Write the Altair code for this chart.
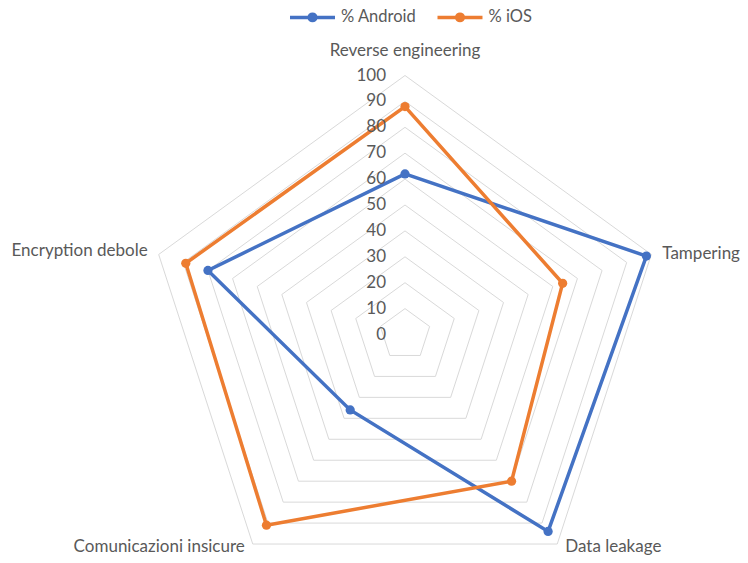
import altair as alt
import pandas as pd

# ---- data ----
categories = ["Reverse engineering", "Tampering", "Data leakage",
              "Comunicazioni insicure", "Encryption debole"]
android = [62, 98, 94, 36, 80]
ios = [88, 64, 70, 91, 89]
series_names = ["% Android", "% iOS"]
series_colors = ["#4472C4", "#ED7D31"]
grid_levels = [10, 20, 30, 40, 50, 60, 70, 80, 90, 100]
tick_values = [0, 10, 20, 30, 40, 50, 60, 70, 80, 90, 100]

# ---- layout ----
W, H = 732, 547
CX, CY = 397, 326.5
PX = 2.59
xdom = [-CX / PX, (W - CX) / PX]
ydom = [-(H - CY) / PX, CY / PX]
FONT = "Lato"
TXT = "#595959"

rows = []
for i, c in enumerate(categories):
    rows.append({"cat": c, "idx": i, "series": series_names[0], "value": android[i]})
    rows.append({"cat": c, "idx": i, "series": series_names[1], "value": ios[i]})
data = pd.DataFrame(rows)
grid = pd.DataFrame([{"level": l, "idx": i} for l in grid_levels for i in range(len(categories))])
ticks = pd.DataFrame({"level": tick_values, "idx": [0] * len(tick_values)})
labels = pd.DataFrame({"cat": categories, "idx": list(range(len(categories))), "r": [100] * len(categories)})

xs = alt.Scale(domain=xdom, nice=False, zero=False)
ys = alt.Scale(domain=ydom, nice=False, zero=False)
N = len(categories)


def polar(ch, rfield):
    return ch.transform_calculate(
        ang=f"PI/2 - datum.idx*2*PI/{N}"
    ).transform_calculate(
        px=f"datum.{rfield}*cos(datum.ang)",
        py=f"datum.{rfield}*sin(datum.ang)",
    )


X = alt.X("px:Q", scale=xs, axis=None)
Y = alt.Y("py:Q", scale=ys, axis=None)

grid_layer = polar(alt.Chart(grid).mark_line(
    interpolate="linear-closed", color="#D9D9D9", strokeWidth=1
), "level").encode(x=X, y=Y, detail="level:N", order="idx:Q")

# legend symbol: 14px box (unit = 7px); line 45px wide with a filled-looking marker
sym = ("M-3.214,0L3.214,0"
       "M0.464,0A0.464,0.464,0,1,1,-0.464,0A0.464,0.464,0,1,1,0.464,0"
       "M0.114,0A0.114,0.114,0,1,1,-0.114,0A0.114,0.114,0,1,1,0.114,0")

line_layer = polar(alt.Chart(data).mark_line(
    interpolate="linear-closed", strokeWidth=3.5
), "value").encode(
    x=X, y=Y, order="idx:Q",
    color=alt.Color("series:N",
                    scale=alt.Scale(domain=series_names, range=series_colors),
                    legend=alt.Legend(title=None, orient="none", legendX=295.5, legendY=0,
                                      direction="horizontal", symbolType=sym, symbolSize=196,
                                      symbolStrokeWidth=3.5, labelFont=FONT, labelFontSize=16.5,
                                      labelColor=TXT, labelOffset=19.5, columnPadding=13.5,
                                      padding=0)),
)

point_layer = polar(alt.Chart(data).mark_circle(size=85, opacity=1), "value").encode(
    x=X, y=Y,
    fill=alt.Fill("series:N", scale=alt.Scale(domain=series_names, range=series_colors), legend=None),
)

tick_layer = polar(alt.Chart(ticks).mark_text(
    align="right", baseline="middle", dx=-19, font=FONT, fontSize=17, color=TXT
), "level").encode(x=X, y=Y, text="level:Q")

label_specs = [
    (categories[0], "center", 0, -25),
    (categories[1], "left", 11, 0),
    (categories[2], "left", 8, 3),
    (categories[3], "right", -8, 3),
    (categories[4], "right", -11, -3),
]
label_layers = []
for cat, al, dx, dy in label_specs:
    label_layers.append(
        polar(alt.Chart(labels).transform_filter(alt.datum.cat == cat).mark_text(
            align=al, baseline="middle", dx=dx, dy=dy, font=FONT, fontSize=17, color=TXT
        ), "r").encode(x=X, y=Y, text="cat:N")
    )

chart = alt.layer(grid_layer, line_layer, point_layer, tick_layer, *label_layers).properties(
    width=W, height=H, padding=0, autosize="none", background="white"
).configure_view(stroke=None)

chart.save("out.html", embed_options={"renderer": "svg", "actions": False})
